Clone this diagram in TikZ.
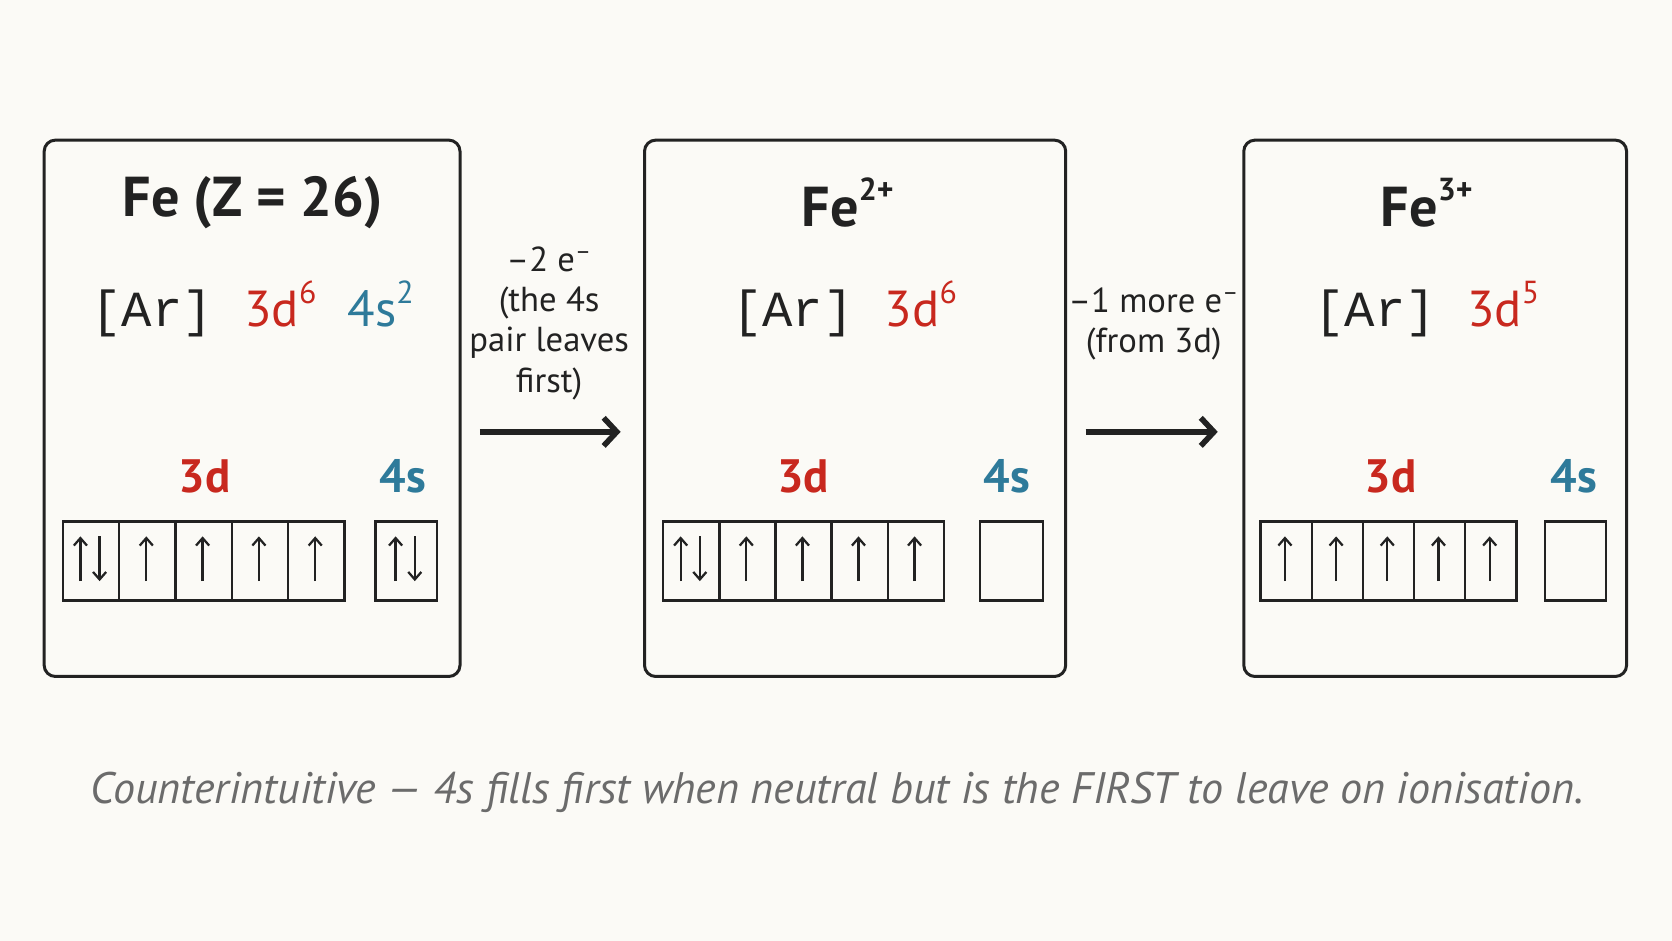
\documentclass[tikz,border=0pt]{standalone}
\usepackage{fontspec}
\usepackage{graphicx}
\setmainfont{PT Sans}
\newfontfamily\monof{Liberation Mono}
\usetikzlibrary{arrows.meta}
\begin{document}
\definecolor{rd}{HTML}{C8281E}
\definecolor{bl}{HTML}{2E7A9A}
\definecolor{ink}{HTML}{222222}
\definecolor{bg}{HTML}{FBFAF6}
\newcommand{\sps}[1]{\raisebox{0.45em}{\fontsize{17}{20}\selectfont #1}}
\begin{tikzpicture}[x=0.02cm,y=-0.02cm,
  panel/.style={draw=ink,line width=1.6pt,rounded corners=6pt},
  cell/.style={draw=ink,line width=1.2pt,minimum height=74*0.02cm,inner sep=0pt,anchor=north west},
  ttl/.style={font=\fontsize{30}{34}\selectfont\bfseries,text=ink},
  cfg/.style={font=\fontsize{27}{30}\selectfont,text=ink},
  lab/.style={font=\fontsize{25}{28}\selectfont\bfseries},
  note/.style={font=\fontsize{18.5}{21.5}\selectfont,text=ink,align=center},
  arr/.style={draw=ink,line width=3pt,-{Straight Barb[length=7pt,width=15pt]}},
  up/.style={draw=ink,line width=1.2pt,-{Straight Barb[length=4pt,width=7pt]}}]
\fill[bg] (0,0) rectangle (1568,882);
\useasboundingbox (0,0) rectangle (1568,882);
% panels
\node[panel,minimum width=390*0.02cm,minimum height=503*0.02cm,anchor=north west] (p1) at (40,130) {};
\node[panel,minimum width=395*0.02cm,minimum height=503*0.02cm,anchor=north west] (p2) at (603,130) {};
\node[panel,minimum width=359*0.02cm,minimum height=503*0.02cm,anchor=north west] (p3) at (1165,130) {};
% titles
\node[ttl] (t1) at (237,190) {Fe (Z = 26)};
\node[ttl] (t2) at (795,190) {Fe\sps{\bfseries 2+}};
\node[ttl] (t3) at (1338,190) {Fe\sps{\bfseries 3+}};
% configs
\node[cfg] (c1) at (237,290) {{\monof [Ar]}\hspace{0.35em} \textcolor{rd}{3d\sps{6}}\hspace{0.35em} \textcolor{bl}{4s\sps{2}}};
\node[cfg] (c2) at (792,290) {{\monof [Ar]}\hspace{0.35em} \textcolor{rd}{3d\sps{6}}};
\node[cfg] (c3) at (1338,290) {{\monof [Ar]}\hspace{0.35em} \textcolor{rd}{3d\sps{5}}};
% labels
\node[lab,text=rd] (l1) at (192,447) {3d};
\node[lab,text=bl] (s1) at (378,447) {4s};
\node[lab,text=rd] (l2) at (753,447) {3d};
\node[lab,text=bl] (s2) at (944,447) {4s};
\node[lab,text=rd] (l3) at (1304,447) {3d};
\node[lab,text=bl] (s3) at (1476,447) {4s};
% orbital cells
\newcommand{\upar}[1]{\draw[up] (#1,545) -- (#1,503);}
\newcommand{\pairar}[1]{\draw[up] (#1-9,545) -- (#1-9,503); \draw[up] (#1+9,503) -- (#1+9,545);}
\foreach \i in {0,...,4}{
  \node[cell,minimum width=52.8*0.02cm] (a\i) at ({58+52.8*\i},488) {};
  \node[cell,minimum width=52.6*0.02cm] (b\i) at ({621+52.6*\i},488) {};
  \node[cell,minimum width=48*0.02cm] (c\i) at ({1181+48*\i},488) {};
}
\node[cell,minimum width=58*0.02cm] (a5) at (351,488) {};
\node[cell,minimum width=59*0.02cm] (b5) at (918,488) {};
\node[cell,minimum width=57*0.02cm] (c5) at (1448,488) {};
\pairar{84.4}
\foreach \i in {1,...,4}{\upar{58+52.8*\i+26.4}}
\pairar{380}
\pairar{647.3}
\foreach \i in {1,...,4}{\upar{621+52.6*\i+26.3}}
\foreach \i in {0,...,4}{\upar{1181+48*\i+24}}
% arrows
\coordinate (a1s) at (450,405); \coordinate (a1e) at (582,405);
\coordinate (a2s) at (1018,405); \coordinate (a2e) at (1142,405);
\draw[arr] (a1s) -- (a1e);
\draw[arr] (a2s) -- (a2e);
\node[note] (n1) at (515,303) {\textendash2 e\textsuperscript{\textendash}\\(the 4s\\pair leaves\\first)};
\node[note] (n2) at (1082,304) {\textendash1 more e\textsuperscript{\textendash}\\(from 3d)};
% caption
\node[text=black!58,inner sep=0pt] (cap) at (785,743) {\resizebox{28cm}{!}{\fontsize{28}{30}\selectfont\itshape Counterintuitive — 4s fills first when neutral but is the FIRST to leave on ionisation.}};
\end{tikzpicture}
\end{document}
